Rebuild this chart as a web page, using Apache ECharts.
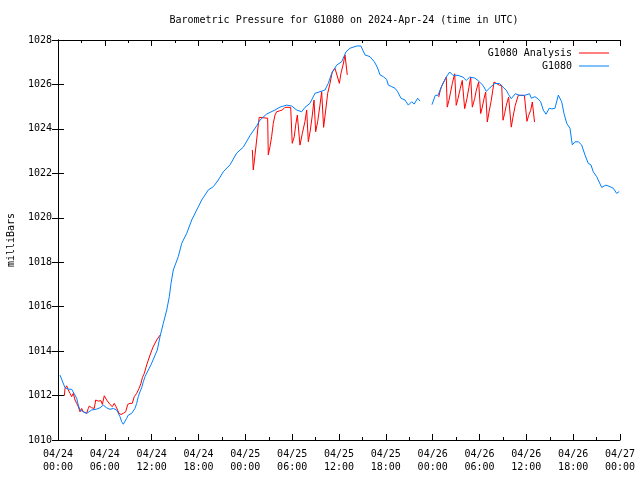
<!DOCTYPE html>
<html>
<head>
<meta charset="utf-8">
<script src="https://cdn.jsdelivr.net/npm/echarts@6/dist/echarts.min.js"></script>
<style>html,body{margin:0;padding:0;background:#fff}#c{width:640px;height:480px}</style>
</head>
<body>
<div id="c"></div>
<script>
// hours since 2024-04-24 00:00 UTC
var tickLabels = ['04/24\n00:00','04/24\n06:00','04/24\n12:00','04/24\n18:00','04/25\n00:00','04/25\n06:00','04/25\n12:00','04/25\n18:00','04/26\n00:00','04/26\n06:00','04/26\n12:00','04/26\n18:00','04/27\n00:00'];

var blueHours = [0.26,0.9,1.32,1.75,2.05,2.39,2.6,2.82,3.24,3.67,3.89,4.31,4.95,5.38,5.81,6.23,6.66,7.09,7.52,7.73,7.94,8.16,8.37,8.58,8.8,9.0,9.44,9.86,10.08,10.29,10.5,10.72,10.93,11.15,11.57,11.91,12.72,13.07,13.49,13.93,14.26,14.48,14.77,15.41,15.85,16.49,17.13,17.77,18.41,19.25,19.9,20.54,21.18,22.03,22.89,23.74,24.6,25.46,25.88,26.74,27.8,28.44,29.3,29.94,30.58,31.22,31.64,32.28,32.92,33.56,34.2,34.63,35.06,35.7,36.34,36.9,37.41,38.27,38.8,39.33,39.97,40.19,40.52,40.83,41.04,41.25,41.68,42.1,42.32,42.75,43.17,43.52,43.94,44.45,44.88,45.31,45.64,46.08,46.38,47.1,47.91,48.34,48.68,49.1,49.74,50.18,50.6,51.24,51.88,52.31,52.74,53.38,53.8,54.45,54.87,55.3,55.94,56.58,57.01,57.43,57.73,58.07,58.58,59.15,59.79,60.0,60.4,60.65,61.1,61.53,61.84,62.17,62.52,62.94,63.25,63.67,64.1,64.53,64.82,65.17,65.59,65.89,66.23,66.65,67.08,67.51,67.93,68.28,68.57,69.01,69.65,70.2,70.72,71.14,71.57,71.9];
var bluePressure = [1012.92,1012.35,1012.29,1012.28,1012.10,1011.88,1011.57,1011.35,1011.27,1011.2,1011.12,1011.35,1011.39,1011.45,1011.57,1011.45,1011.38,1011.42,1011.35,1011.27,1011.05,1010.82,1010.71,1010.75,1010.98,1011.12,1011.2,1011.42,1011.65,1011.95,1012.17,1012.35,1012.62,1012.85,1013.15,1013.38,1014.05,1014.65,1015.25,1015.85,1016.45,1017.05,1017.65,1018.25,1018.85,1019.30,1019.90,1020.35,1020.80,1021.25,1021.40,1021.70,1022.07,1022.38,1022.91,1023.18,1023.7,1024.14,1024.4,1024.67,1024.85,1024.98,1025.07,1025.03,1024.85,1024.77,1024.97,1025.15,1025.6,1025.67,1025.75,1026.05,1026.5,1026.87,1027.02,1027.47,1027.63,1027.73,1027.73,1027.33,1027.25,1027.18,1027.02,1026.83,1026.65,1026.43,1026.35,1026.23,1025.97,1025.9,1025.83,1025.67,1025.38,1025.3,1025.07,1025.22,1025.12,1025.38,1025.25,null,1025.09,1025.51,1025.51,1025.88,1026.33,1026.56,1026.41,1026.41,1026.33,1026.18,1026.33,1026.29,1026.18,1025.96,1025.69,1025.84,1026.04,1026.04,1025.88,1025.74,1025.54,1025.36,1025.58,1025.51,1025.51,1025.45,1025.58,1025.38,1025.45,1025.34,1025.22,1024.85,1024.66,1024.93,1024.9,1024.93,1025.52,1025.22,1024.7,1024.25,1024.03,1023.28,1023.42,1023.42,1023.28,1022.83,1022.45,1022.38,1022.07,1021.85,1021.37,1021.47,1021.4,1021.33,1021.1,1021.18];

var analysisHours = [0.81,0.9,1.11,1.32,1.54,1.75,1.96,2.18,2.39,2.6,2.82,3.03,3.24,3.45,3.67,3.88,4.01,4.31,4.65,4.83,5.16,5.51,5.68,5.93,6.23,6.45,6.66,6.96,7.21,7.43,7.64,7.81,8.07,8.37,8.67,8.93,9.22,9.52,9.77,10.08,10.38,10.63,10.8,11.06,11.36,11.79,12.17,12.64,13.07,
  18.0,
  24.9,25.02,25.24,25.45,25.58,25.78,26.86,26.94,27.16,27.37,27.58,27.8,28.01,28.74,29.08,29.81,30.01,30.27,30.45,30.66,31.0,31.3,31.64,31.86,32.07,32.33,32.58,32.8,33.01,33.27,33.56,33.78,34.03,34.3,34.55,34.85,35.14,35.49,36.05,36.25,36.55,36.77,37.06,
  42.0,
  48.77,48.98,49.19,49.53,49.74,49.87,50.09,50.3,50.51,50.82,51.02,51.24,51.53,51.79,52.1,52.39,52.65,52.87,53.08,53.38,53.59,53.89,54.15,54.36,54.58,54.79,55.0,55.22,55.51,55.86,56.58,56.85,57.01,57.22,57.43,57.73,58.07,58.29,58.58,58.97,59.75,60.08,60.3,60.56,60.77,60.9,61.05];
var analysisPressure = [1011.99,1012.32,1012.44,1012.25,1012.1,1011.95,1012.1,1011.8,1011.65,1011.5,1011.27,1011.42,1011.27,1011.27,1011.2,1011.42,1011.53,1011.45,1011.42,1011.8,1011.75,1011.77,1011.6,1011.99,1011.8,1011.72,1011.6,1011.5,1011.65,1011.5,1011.35,1011.2,1011.15,1011.2,1011.27,1011.6,1011.65,1011.65,1011.95,1012.1,1012.32,1012.55,1012.8,1013.0,1013.38,1013.82,1014.18,1014.5,1014.72,
  null,
  1023.05,1022.15,1022.83,1023.5,1023.95,1024.52,1024.48,1022.83,1023.2,1023.65,1024.25,1024.62,1024.77,1024.85,1024.97,1024.97,1023.35,1023.65,1024.17,1024.62,1023.27,1023.8,1024.33,1024.85,1023.42,1023.95,1024.62,1025.3,1023.87,1024.33,1025.07,1025.67,1024.07,1024.85,1025.6,1026.05,1026.57,1026.72,1026.05,1026.5,1026.92,1027.33,1026.43,
  null,
  1025.43,1025.74,1025.96,1026.19,1026.33,1024.98,1025.29,1025.66,1026.03,1026.48,1025.06,1025.36,1025.81,1026.18,1024.91,1025.36,1025.88,1026.33,1024.98,1025.36,1025.74,1026.11,1024.69,1024.98,1025.36,1025.66,1024.31,1024.76,1025.29,1026.11,1025.96,1025.96,1024.39,1024.69,1025.06,1025.43,1024.08,1024.53,1025.06,1025.51,1025.51,1024.34,1024.61,1024.84,1025.21,1025.3,1024.31];

function zip(xs, ys) {
  return xs.map(function (x, i) { return [x, ys[i] === null ? '-' : ys[i]]; });
}

var FONT = 'DejaVu Sans Mono';
var chart = echarts.init(document.getElementById('c'), null, {renderer: 'canvas'});
var axisLineStyle = {show: true, lineStyle: {color: '#000', width: 1}};
var xCommon = {
  type: 'value', min: 0, max: 72, interval: 6,
  axisLine: axisLineStyle,
  axisTick: {show: true, inside: true, length: 6, lineStyle: {color: '#000'}},
  minorTick: {show: true, splitNumber: 2, length: 3, lineStyle: {color: '#000'}},
  splitLine: {show: false}
};
var yCommon = {
  type: 'value', min: 1010, max: 1028, interval: 2,
  axisLine: axisLineStyle,
  axisTick: {show: true, inside: true, length: 6, lineStyle: {color: '#000'}},
  splitLine: {show: false}
};
var legendText = {fontFamily: FONT, fontSize: 10, color: '#000'};
chart.setOption({
  animation: false,
  backgroundColor: '#fff',
  title: {
    text: 'Barometric Pressure for G1080 on 2024-Apr-24 (time in UTC)',
    left: 339, textAlign: 'center', top: 10,
    textStyle: {fontFamily: FONT, fontSize: 10, fontWeight: 'normal', color: '#000'}
  },
  legend: [
    {data: [{name: 'G1080 Analysis', icon: 'rect'}], right: 26, top: 43, align: 'right', itemWidth: 30, itemHeight: 1, itemGap: 0,
     textStyle: Object.assign({padding: [0, 2, 0, 0]}, legendText)},
    {data: [{name: 'G1080', icon: 'rect'}], right: 26, top: 56, align: 'right', itemWidth: 30, itemHeight: 1, itemGap: 0,
     textStyle: Object.assign({padding: [0, 2, 0, 0]}, legendText)}
  ],
  grid: {left: 58, right: 20, top: 40, bottom: 40, containLabel: false, outerBoundsMode: 'none'},
  xAxis: [
    Object.assign({}, xCommon, {
      position: 'bottom',
      axisLabel: {
        fontFamily: FONT, fontSize: 10, color: '#000', margin: 8, lineHeight: 13,
        formatter: function (v) { return tickLabels[Math.round(v / 6)] || ''; }
      }
    }),
    Object.assign({}, xCommon, {position: 'top', axisLabel: {show: false}})
  ],
  yAxis: [
    Object.assign({}, yCommon, {
      position: 'left',
      name: 'milliBars', nameLocation: 'middle', nameGap: 42, nameRotate: 90,
      nameTextStyle: {fontFamily: FONT, fontSize: 10, color: '#000'},
      axisLabel: {fontFamily: FONT, fontSize: 10, color: '#000', margin: 6,
        formatter: function (v) { return String(v); }}
    }),
    Object.assign({}, yCommon, {position: 'right', axisLabel: {show: false}})
  ],
  series: [
    {
      name: 'G1080 Analysis', type: 'line', xAxisIndex: 0, yAxisIndex: 0,
      data: zip(analysisHours, analysisPressure),
      symbol: 'none', connectNulls: false,
      lineStyle: {color: '#ff0000', width: 1}, itemStyle: {color: '#ff0000'}
    },
    {
      name: 'G1080', type: 'line', xAxisIndex: 0, yAxisIndex: 0,
      data: zip(blueHours, bluePressure),
      symbol: 'none', connectNulls: false,
      lineStyle: {color: '#0080ff', width: 1}, itemStyle: {color: '#0080ff'}
    }
  ]
});
</script>
</body>
</html>
